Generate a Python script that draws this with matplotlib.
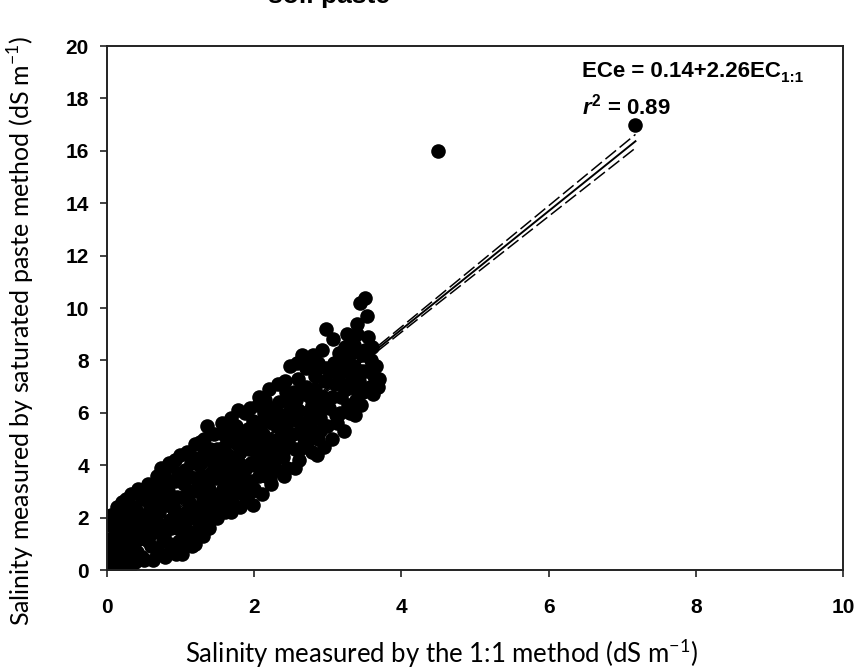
import matplotlib
matplotlib.use("Agg")
import matplotlib.pyplot as plt

plt.rcParams['mathtext.fontset'] = 'custom'
plt.rcParams['mathtext.rm'] = 'Liberation Sans:bold'
plt.rcParams['mathtext.it'] = 'Liberation Sans:italic:bold'
plt.rcParams['mathtext.bf'] = 'Liberation Sans:bold'

# point cloud in strips of x
x_a = [0.02, 0.05, 0.08, 0.03, 0.10, 0.12, 0.06, 0.15, 0.18, 0.04, 0.20, 0.22, 0.09, 0.25, 0.28, 0.14, 0.30, 0.33, 0.11, 0.35,
       0.38, 0.19, 0.40, 0.42, 0.24, 0.45, 0.48, 0.27, 0.07, 0.16, 0.31, 0.36, 0.44, 0.21, 0.13, 0.39, 0.47, 0.29, 0.05, 0.26]
y_a = [0.1, 0.6, 0.3, 1.2, 0.9, 1.8, 2.1, 0.2, 1.4, 0.5, 2.6, 0.8, 1.6, 2.0, 0.4, 2.4, 1.1, 2.9, 0.7, 1.7,
       0.3, 1.0, 2.3, 3.1, 0.6, 1.5, 2.7, 1.9, 1.0, 0.9, 2.5, 0.8, 1.2, 1.3, 0.4, 1.9, 0.5, 0.2, 1.7, 2.7]

x_b = [0.50, 0.52, 0.55, 0.58, 0.60, 0.62, 0.65, 0.68, 0.70, 0.72, 0.75, 0.78, 0.80, 0.82, 0.85, 0.88, 0.90, 0.92, 0.95, 0.98,
       0.54, 0.63, 0.71, 0.79, 0.87, 0.96, 0.57, 0.66, 0.74, 0.83, 0.91, 0.99, 0.61, 0.69, 0.77, 0.86, 0.94, 0.53, 0.84, 1.00]
y_b = [0.4, 1.8, 3.3, 2.4, 0.9, 3.0, 1.5, 3.6, 2.2, 0.6, 2.9, 1.3, 3.9, 2.5, 0.7, 3.4, 1.9, 4.2, 2.8, 1.1,
       1.2, 2.0, 3.3, 0.5, 1.6, 3.7, 2.7, 0.8, 1.7, 3.0, 2.3, 4.4, 1.4, 2.6, 3.6, 1.0, 0.6, 2.1, 4.1, 2.0]

x_c = [1.02, 1.05, 1.08, 1.10, 1.12, 1.15, 1.18, 1.20, 1.22, 1.25, 1.28, 1.30, 1.32, 1.35, 1.38, 1.40, 1.42, 1.45, 1.48, 1.04,
       1.13, 1.21, 1.29, 1.37, 1.46, 1.07, 1.16, 1.24, 1.33, 1.41, 1.49, 1.11, 1.19, 1.27, 1.36, 1.44, 1.03, 1.26]
y_c = [0.6, 2.8, 4.5, 1.5, 3.6, 0.9, 2.4, 4.8, 3.1, 1.8, 4.1, 2.7, 5.0, 3.4, 1.6, 4.6, 2.9, 3.9, 2.2, 3.3,
       2.0, 1.3, 3.6, 2.5, 5.2, 1.9, 4.3, 3.0, 2.1, 3.7, 4.6, 2.6, 3.5, 1.5, 5.5, 2.0, 1.2, 4.9]

x_d = [1.50, 1.53, 1.56, 1.58, 1.60, 1.63, 1.66, 1.68, 1.70, 1.73, 1.76, 1.78, 1.80, 1.83, 1.86, 1.88, 1.90, 1.93, 1.96, 1.98,
       1.52, 1.61, 1.69, 1.77, 1.85, 1.94, 1.55, 1.64, 1.72, 1.81, 1.89, 1.99, 1.59, 1.67, 1.75, 1.84, 1.92]
y_d = [2.0, 4.4, 5.6, 3.1, 2.2, 4.9, 3.6, 5.8, 2.6, 4.2, 3.3, 6.1, 2.4, 5.1, 3.8, 6.0, 2.7, 4.6, 3.4, 5.7,
       3.5, 2.8, 4.0, 4.8, 2.9, 6.2, 2.6, 5.3, 3.0, 4.5, 3.9, 2.5, 4.7, 3.2, 5.5, 3.6, 5.0]

x_e = [2.00, 2.03, 2.06, 2.08, 2.10, 2.13, 2.16, 2.18, 2.20, 2.23, 2.26, 2.28, 2.30, 2.33, 2.36, 2.38, 2.40, 2.43, 2.46, 2.48,
       2.02, 2.11, 2.19, 2.27, 2.35, 2.44, 2.05, 2.14, 2.22, 2.31, 2.39, 2.49, 2.09, 2.17, 2.25, 2.34, 2.42]
y_e = [3.1, 5.4, 6.6, 4.2, 2.9, 6.0, 3.6, 5.0, 6.9, 3.3, 4.7, 5.9, 3.8, 6.4, 4.4, 5.3, 3.6, 6.8, 4.9, 7.8,
       4.5, 3.7, 5.7, 4.1, 5.0, 3.9, 6.3, 4.6, 3.5, 5.5, 4.3, 6.1, 5.6, 4.0, 6.2, 4.8, 7.2]

x_f = [2.52, 2.55, 2.58, 2.60, 2.62, 2.65, 2.68, 2.70, 2.72, 2.75, 2.78, 2.80, 2.82, 2.85, 2.88, 2.90, 2.92, 2.95, 2.98, 2.54,
       2.63, 2.71, 2.79, 2.87, 2.96, 2.57, 2.66, 2.74, 2.83, 2.91, 2.99, 2.61, 2.69, 2.77, 2.86]
y_f = [5.2, 3.9, 7.9, 6.1, 4.6, 8.2, 5.5, 7.0, 4.9, 8.0, 6.3, 5.3, 7.4, 4.4, 6.6, 5.8, 8.4, 4.7, 9.2, 6.8,
       5.6, 7.7, 4.5, 5.0, 7.2, 6.5, 5.1, 6.0, 6.9, 6.2, 5.5, 4.2, 6.7, 5.7, 7.9]

x_g = [3.02, 3.05, 3.07, 3.10, 3.12, 3.15, 3.18, 3.20, 3.22, 3.25, 3.26, 3.28, 3.30, 3.33, 3.35, 3.37, 3.38, 3.40, 3.42, 3.44,
       3.46, 3.48, 3.50, 3.52, 3.53, 3.55, 3.57, 3.60, 3.62, 3.65, 3.68, 3.70, 3.08, 3.17, 3.24, 3.32, 3.45, 3.58]
y_g = [6.2, 5.0, 8.8, 7.1, 5.6, 8.3, 6.6, 7.6, 5.3, 6.9, 9.0, 8.0, 6.0, 7.4, 8.6, 5.9, 6.5, 9.4, 7.2, 10.2,
       8.2, 6.8, 10.4, 7.6, 9.7, 8.9, 7.0, 8.5, 6.7, 7.8, 7.0, 7.3, 7.9, 6.0, 7.9, 8.3, 6.3, 8.0]

# more points inside the dense part of the cloud
x_h = [0.10, 0.17, 0.23, 0.34, 0.41, 0.46, 0.32, 0.15, 0.37, 0.27,
       0.56, 0.59, 0.64, 0.67, 0.73, 0.76, 0.81, 0.89, 0.93, 0.97, 0.62, 0.86, 0.70, 0.52,
       1.06, 1.09, 1.14, 1.17, 1.23, 1.31, 1.34, 1.39, 1.43, 1.47, 1.09, 1.20, 1.30, 1.25,
       1.51, 1.54, 1.57, 1.62, 1.65, 1.71, 1.74, 1.79, 1.82, 1.87, 1.91, 1.95, 1.97, 1.58, 1.68,
       2.01, 2.04, 2.07, 2.12, 2.15, 2.21, 2.24, 2.29, 2.32, 2.37, 2.41, 2.45, 2.47, 2.15, 2.32,
       2.53, 2.56, 2.59, 2.64, 2.67, 2.73, 2.76, 2.81, 2.84, 2.89, 2.93, 2.97, 2.60, 2.80,
       3.03, 3.06, 3.11, 3.14, 3.19, 3.23, 3.27, 3.31, 3.36, 3.41, 3.47, 3.51, 3.56, 3.63, 3.39]
y_h = [0.3, 2.2, 1.7, 2.2, 0.7, 2.1, 0.2, 1.1, 1.4, 1.2,
       1.1, 3.0, 2.4, 1.9, 3.9, 1.1, 3.2, 2.6, 3.4, 1.6, 0.4, 1.9, 2.8, 2.7,
       3.8, 2.2, 4.1, 3.0, 2.2, 4.4, 1.9, 3.1, 4.2, 3.5, 1.0, 1.0, 1.3, 4.0,
       3.6, 2.7, 4.0, 3.6, 4.4, 5.1, 3.6, 4.1, 3.1, 4.8, 5.4, 4.1, 3.0, 5.2, 2.2,
       4.0, 5.0, 3.6, 5.2, 4.3, 4.4, 5.6, 4.5, 5.0, 5.9, 4.6, 5.6, 6.5, 6.5, 7.1,
       6.0, 4.6, 5.7, 6.8, 4.8, 5.3, 6.6, 5.9, 7.7, 5.3, 6.6, 7.7, 7.3, 8.2,
       7.6, 6.6, 5.9, 7.5, 7.1, 8.5, 6.3, 7.0, 7.8, 6.8, 7.6, 8.4, 6.9, 7.4, 9.0]

x_out = [4.50, 7.18]
y_out = [16.0, 17.0]

# fitted line ECe = 0.14 + 2.26 EC1:1 and its band
intercept = 0.14
slope = 2.26
fit_x = [0.0, 1.0, 2.0, 3.0, 4.0, 5.0, 6.0, 7.18]
band_half = [0.12, 0.08, 0.06, 0.07, 0.10, 0.15, 0.20, 0.26]

xs = x_a + x_b + x_c + x_d + x_e + x_f + x_g + x_h + x_out
ys = y_a + y_b + y_c + y_d + y_e + y_f + y_g + y_h + y_out

fig = plt.figure(figsize=(8.59, 6.71), dpi=100)
ax = fig.add_axes([0.1246, 0.1505, 0.8568, 0.7809])

ax.plot(xs, ys, 'o', color='black', markersize=10.5, markeredgewidth=0)

fit_y = [intercept + slope * v for v in fit_x]
upper = [f + h for f, h in zip(fit_y, band_half)]
lower = [f - h for f, h in zip(fit_y, band_half)]
ax.plot(fit_x, fit_y, '-', color='black', lw=1.4)
ax.plot(fit_x, upper, color='black', lw=1.1, dashes=(9, 3))
ax.plot(fit_x, lower, color='black', lw=1.1, dashes=(9, 3))

ax.set_xlim(0, 10)
ax.set_ylim(0, 20)
ax.set_xticks([0, 2, 4, 6, 8, 10])
ax.set_yticks(range(0, 21, 2))

for s in ax.spines.values():
    s.set_linewidth(1.4)
    s.set_color('#222222')
ax.tick_params(direction='out', length=5, width=1.2, color='#222222')
ax.tick_params(axis='x', pad=15)
ax.tick_params(axis='y', pad=8)
for lab in ax.get_xticklabels() + ax.get_yticklabels():
    lab.set_fontfamily('Liberation Sans')
    lab.set_fontweight('bold')
    lab.set_fontsize(15)

ax.set_xlabel('Salinity measured by the 1:1 method (dS m$^{\\mathregular{-1}}$)',
              family='Lato', fontsize=18.5)
ax.set_ylabel('Salinity measured by saturated paste method (dS m$^{\\mathregular{-1}}$)',
              family='Lato', fontsize=18)
ax.xaxis.set_label_coords(0.454, -0.128)
ax.yaxis.set_label_coords(-0.095, 0.456)

eq = ax.text(6.45, 18.82, 'ECe = 0.14+2.26EC', family='Liberation Sans',
             fontweight='bold', fontsize=16, va='baseline', ha='left')
ax.annotate('1:1', xy=(1, 0), xycoords=eq, xytext=(0.5, -2.5), textcoords='offset points',
            family='Liberation Sans', fontweight='bold', fontsize=11, va='bottom', ha='left')
ax.text(6.45, 17.37, '$\\mathit{r}^{\\mathregular{2}}$ = 0.89', family='Liberation Sans',
        fontweight='bold', fontsize=16, va='baseline', ha='left')

# title cut off at the top edge of the picture
fig.text(268 / 859, 1 - 2.5 / 671, 'soil paste', family='Liberation Sans', fontweight='bold',
         fontsize=19, va='baseline', ha='left')

fig.savefig('out.png', dpi=100)
